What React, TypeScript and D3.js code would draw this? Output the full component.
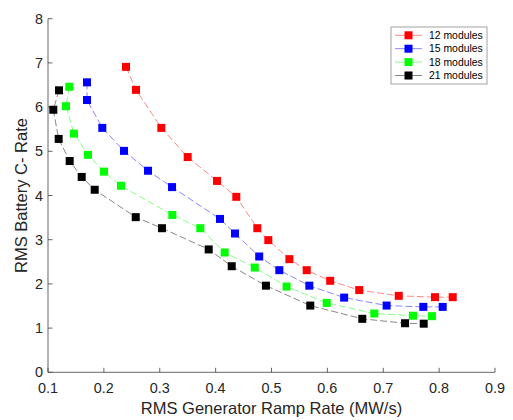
import React from "react";
import * as d3 from "d3";

const seriesNames = ["12 modules", "15 modules", "18 modules", "21 modules"];
const seriesColors = ["#ff0000", "#0000ff", "#00ff00", "#000000"];

const x12 = [0.2396, 0.2575, 0.3028, 0.350, 0.4025, 0.437, 0.4746, 0.4943, 0.532, 0.563, 0.605, 0.657, 0.7277, 0.7926, 0.8243];
const y12 = [6.91, 6.39, 5.53, 4.87, 4.33, 3.97, 3.26, 2.99, 2.56, 2.31, 2.07, 1.86, 1.73, 1.70, 1.70];

const x15 = [0.1698, 0.1698, 0.1972, 0.236, 0.279, 0.322, 0.4078, 0.4347, 0.478, 0.514, 0.5677, 0.630, 0.706, 0.7717, 0.8064];
const y15 = [6.56, 6.16, 5.53, 5.01, 4.56, 4.19, 3.47, 3.14, 2.62, 2.31, 1.96, 1.69, 1.51, 1.48, 1.48];

const x18 = [0.1381, 0.1322, 0.1465, 0.1716, 0.2002, 0.2306, 0.3225, 0.3726, 0.4162, 0.470, 0.527, 0.5988, 0.684, 0.7532, 0.7872];
const y18 = [6.46, 6.02, 5.40, 4.92, 4.54, 4.22, 3.56, 3.26, 2.71, 2.37, 1.94, 1.57, 1.33, 1.28, 1.27];

const x21 = [0.1197, 0.1095, 0.1191, 0.1388, 0.1603, 0.1836, 0.257, 0.304, 0.3876, 0.4288, 0.490, 0.5694, 0.6625, 0.739, 0.7724];
const y21 = [6.38, 5.94, 5.28, 4.78, 4.42, 4.13, 3.51, 3.26, 2.78, 2.40, 1.96, 1.51, 1.21, 1.11, 1.10];

const xTicks = [0.1, 0.2, 0.3, 0.4, 0.5, 0.6, 0.7, 0.8, 0.9];
const yTicks = [0, 1, 2, 3, 4, 5, 6, 7, 8];

const xLabel = "RMS Generator Ramp Rate (MW/s)";
const yLabel = "RMS Battery C- Rate";

export default function App() {
  const W = 513, H = 420;
  const left = 48, right = 495, top = 18.7, bottom = 372.3;
  const x = d3.scaleLinear().domain([0.1, 0.9]).range([left, right]);
  const y = d3.scaleLinear().domain([0, 8]).range([bottom, top]);
  const font = "'Liberation Sans', Arial, Helvetica, sans-serif";
  const axisColor = "#404040";

  const xs = [x12, x15, x18, x21];
  const ys = [y12, y15, y18, y21];
  const series = seriesNames.map((name, i) => ({
    name,
    color: seriesColors[i],
    pts: xs[i].map((v, j) => [v, ys[i][j]] as [number, number]),
  }));

  const line = d3.line<[number, number]>().x((d) => x(d[0])).y((d) => y(d[1]));
  const ms = 8;

  const lgX = 391, lgY = 27, lgW = 96, lgH = 57;

  return (
    <div style={{ position: "absolute", left: 0, top: 0 }}>
      <svg width={W} height={H} style={{ display: "block", background: "#fff" }}>
        {/* axes */}
        <line x1={left} x2={right} y1={bottom} y2={bottom} stroke={axisColor} strokeWidth={0.8} />
        <line x1={left} x2={left} y1={top} y2={bottom} stroke={axisColor} strokeWidth={0.8} />
        {xTicks.map((t) => (
          <g key={"xt" + t}>
            <line x1={x(t)} x2={x(t)} y1={bottom} y2={bottom - 4.5} stroke={axisColor} strokeWidth={0.8} />
            <text x={x(t)} y={bottom + 21} textAnchor="middle" fontFamily={font} fontSize={14.4} fill="#262626">
              {t.toFixed(1)}
            </text>
          </g>
        ))}
        {yTicks.map((t) => (
          <g key={"yt" + t}>
            <line x1={left} x2={left + 4.5} y1={y(t)} y2={y(t)} stroke={axisColor} strokeWidth={0.8} />
            <text x={left - 5} y={y(t) + 5} textAnchor="end" fontFamily={font} fontSize={14.4} fill="#262626">
              {t}
            </text>
          </g>
        ))}
        <text x={(left + right) / 2} y={414} textAnchor="middle" fontFamily={font} fontSize={16.5} fill="#262626">
          {xLabel}
        </text>
        <text
          transform={`translate(${27},${(top + bottom) / 2}) rotate(-90)`}
          textAnchor="middle"
          fontFamily={font}
          fontSize={16.5}
          fill="#262626"
        >
          {yLabel}
        </text>

        {/* series */}
        {series.map((s) => (
          <g key={s.name}>
            <path d={line(s.pts) || ""} fill="none" stroke={s.color} strokeOpacity={0.6} strokeWidth={0.8} strokeDasharray="7,3" />
            {s.pts.map((p, j) => (
              <rect key={j} x={x(p[0]) - ms / 2} y={y(p[1]) - ms / 2} width={ms} height={ms} fill={s.color} />
            ))}
          </g>
        ))}

        {/* legend */}
        <rect x={lgX} y={lgY} width={lgW} height={lgH} fill="#fff" stroke="#8c8c8c" strokeWidth={0.8} />
        {series.map((s, i) => {
          const cy = lgY + 8.3 + i * 13.4;
          return (
            <g key={"lg" + s.name}>
              <line x1={lgX + 4} x2={lgX + 31} y1={cy} y2={cy} stroke={s.color} strokeOpacity={0.6} strokeWidth={0.8} />
              <rect x={lgX + 17.5 - ms / 2} y={cy - ms / 2} width={ms} height={ms} fill={s.color} />
              <text x={lgX + 38} y={cy + 3.7} fontFamily={font} fontSize={10.4} fill="#000">
                {s.name}
              </text>
            </g>
          );
        })}
      </svg>
    </div>
  );
}
